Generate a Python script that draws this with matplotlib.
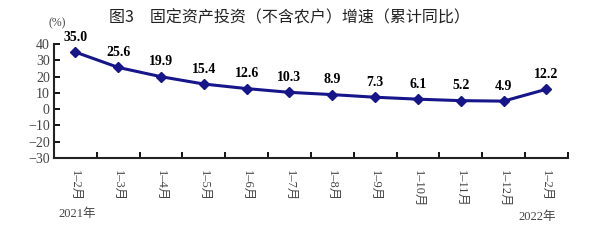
import matplotlib.pyplot as plt

# data
months = ['1–2月', '1–3月', '1–4月', '1–5月', '1–6月', '1–7月',
          '1–8月', '1–9月', '1–10月', '1–11月', '1–12月', '1–2月']
growth = [35.0, 25.6, 19.9, 15.4, 12.6, 10.3, 8.9, 7.3, 6.1, 5.2, 4.9, 12.2]
yticks = [40, 30, 20, 10, 0, -10, -20, -30]

serif = ['Liberation Serif', 'Noto Sans CJK SC']
plt.rcParams['font.family'] = serif

fig = plt.figure(figsize=(5.89, 2.43), dpi=100)
ax = fig.add_axes([0.0917, 0.350, 0.964 - 0.0917, 0.469])

x = range(len(growth))
ax.plot(x, growth, color='#16168a', lw=2.2, marker='D', ms=5.5)

for i, v in enumerate(growth):
    ax.annotate(f'{v:.1f}', (i, v), xytext=(0, 6), textcoords='offset points',
                ha='center', va='bottom', fontsize=10, fontweight='bold')

ax.set_xlim(-0.5, len(growth) - 0.5)
ax.set_ylim(-30, 40)
ax.set_yticks(yticks)
ax.set_yticklabels([str(t).replace('-', '−') for t in yticks], fontsize=10, color='#444444')

# ticks sit on the category boundaries, labels on the centers
ax.set_xticks([i + 0.5 for i in range(len(growth))])
ax.set_xticklabels([])
ax.set_xticks(list(x), minor=True)
ax.set_xticklabels(months, minor=True, rotation=-90, fontsize=9, color='#444444')
ax.tick_params(axis='x', which='major', direction='in', length=4, width=1.3)
ax.tick_params(axis='x', which='minor', length=0, pad=9)
ax.tick_params(axis='y', direction='in', length=4, width=1.3, pad=3)

ax.spines['top'].set_visible(False)
ax.spines['right'].set_visible(False)
ax.spines['left'].set_linewidth(1.5)
ax.spines['bottom'].set_linewidth(1.5)
ax.spines['left'].set_color('#222222')
ax.spines['bottom'].set_color('#222222')

fig.text(0.492, 0.925, '图3　固定资产投资（不含农户）增速（累计同比）',
         ha='center', va='center', fontsize=11.5, family=['Noto Sans CJK SC'], color='#222222')
fig.text(0.097, 0.905, '(%)', ha='center', va='center', fontsize=8.5, color='#444444')
fig.text(0.131, 0.119, '2021年', ha='center', va='center', fontsize=9, color='#444444')
fig.text(0.912, 0.107, '2022年', ha='center', va='center', fontsize=9, color='#444444')

fig.savefig('out.png', dpi=100)
